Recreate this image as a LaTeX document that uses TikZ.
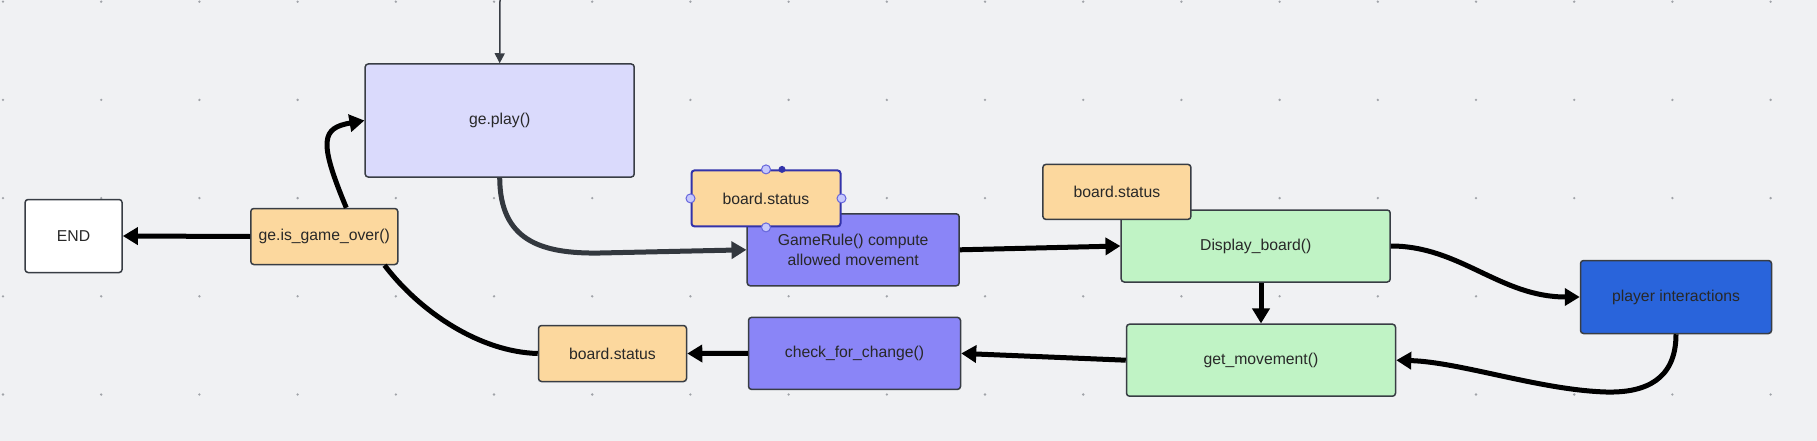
\documentclass[tikz,border=0pt]{standalone}
\usepackage{fontspec}
\setmainfont{Liberation Sans}
\usepackage{xcolor}
\usetikzlibrary{arrows.meta}
\definecolor{bggray}{RGB}{240,241,243}
\definecolor{dotgray}{RGB}{160,163,168}
\definecolor{edgegray}{RGB}{56,61,68}
\definecolor{curvegray}{RGB}{51,56,62}
\definecolor{inkgray}{RGB}{40,40,40}
\definecolor{playlav}{RGB}{218,218,252}
\definecolor{statusorange}{RGB}{252,216,158}
\definecolor{rulepurple}{RGB}{138,133,247}
\definecolor{boardgreen}{RGB}{192,243,197}
\definecolor{playerblue}{RGB}{41,100,219}
\definecolor{selblue}{RGB}{51,51,170}
\definecolor{handlefill}{RGB}{198,200,252}
\definecolor{handleedge}{RGB}{102,102,220}

\begin{document}
\begin{tikzpicture}[x=1pt,y=-1pt,
  block/.style={draw=edgegray, line width=1.5pt, rounded corners=3pt, text=inkgray, inner sep=0pt,
    align=center, font=\fontsize{15.75}{19.3}\selectfont},
  flow/.style={line width=5pt, -{Triangle[length=15pt,width=17pt]}}]
% Canvas with dot grid
\fill[bggray] (0,0) rectangle (1817,441);
\useasboundingbox (0,0) rectangle (1817,441);
\foreach \i in {0,...,18} {
  \foreach \j in {0,...,4} {
    \fill[dotgray] (3+98.2*\i, 1.7+98.2*\j) circle (1.3pt);
  }
}
% Blocks
\node[block, fill=white, minimum width=97pt, minimum height=73pt] (end) at (73.6,236) {END};
\node[block, fill=statusorange, minimum width=147pt, minimum height=56pt] (over) at (324.3,236.5) {ge.is\_game\_over()};
\node[block, fill=playlav, minimum width=269pt, minimum height=113pt] (play) at (499.7,120.5) {ge.play()};
\node[block, fill=statusorange, minimum width=148pt, minimum height=56pt] (bs1) at (612.5,353.5) {board.status};
\node[block, fill=rulepurple, minimum width=212pt, minimum height=72pt] (rule) at (853.2,249.8) {GameRule() compute\\allowed movement};
\node[block, fill=statusorange, draw=selblue, line width=2pt, minimum width=149pt, minimum height=56pt] (bs2) at (766,198.4) {board.status};
\node[block, fill=rulepurple, minimum width=212pt, minimum height=72pt] (check) at (854.5,353.4) {check\_for\_change()};
\node[block, fill=boardgreen, minimum width=269pt, minimum height=72pt] (disp) at (1255.7,246) {Display\_board()};
\node[block, fill=statusorange, minimum width=148pt, minimum height=55pt] (bs3) at (1116.9,191.9) {board.status};
\node[block, fill=boardgreen, minimum width=269pt, minimum height=72pt] (getm) at (1261,360.2) {get\_movement()};
\node[block, fill=playerblue, minimum width=191pt, minimum height=73pt] (player) at (1676,297) {player interactions};
% Selection handles
\foreach \a in {west,east,north,south} {
  \filldraw[fill=handlefill, draw=handleedge, line width=1pt] (bs2.\a) circle (4.5pt);
}
\fill[selblue] ([xshift=16pt]bs2.north) circle (3.5pt);
% Connectors
\coordinate (start) at (500,0);
\draw[draw=edgegray, line width=1.5pt, -{Triangle[length=10pt,width=10pt]}] (start) -- (play.north);
\draw[flow, draw=curvegray] (play.south) .. controls (500,240) and (540,254) .. (600,253) -- (rule.west);
\draw[flow] (rule.east) -- (disp.west);
\draw[flow] (getm.north |- disp.south) -- (getm.north);
\draw[flow] (disp.east) .. controls (1460,246) and (1500,297) .. (player.west);
\draw[flow] (player.south) .. controls (1676,380) and (1645,393) .. (1606,392)
  .. controls (1540,390) and (1460,362) .. (getm.east);
\draw[flow] (getm.west) -- (check.east);
\draw[flow] (check.west) -- (bs1.east);
\draw[line width=5pt] (bs1.west) .. controls (480,352) and (420,312) .. ([xshift=-14pt]over.south east);
\draw[flow] ([xshift=22pt]over.north) .. controls (318,140) and (322,128) .. (play.west);
\draw[flow] (over.west) -- (end.east);
\end{tikzpicture}
\end{document}
